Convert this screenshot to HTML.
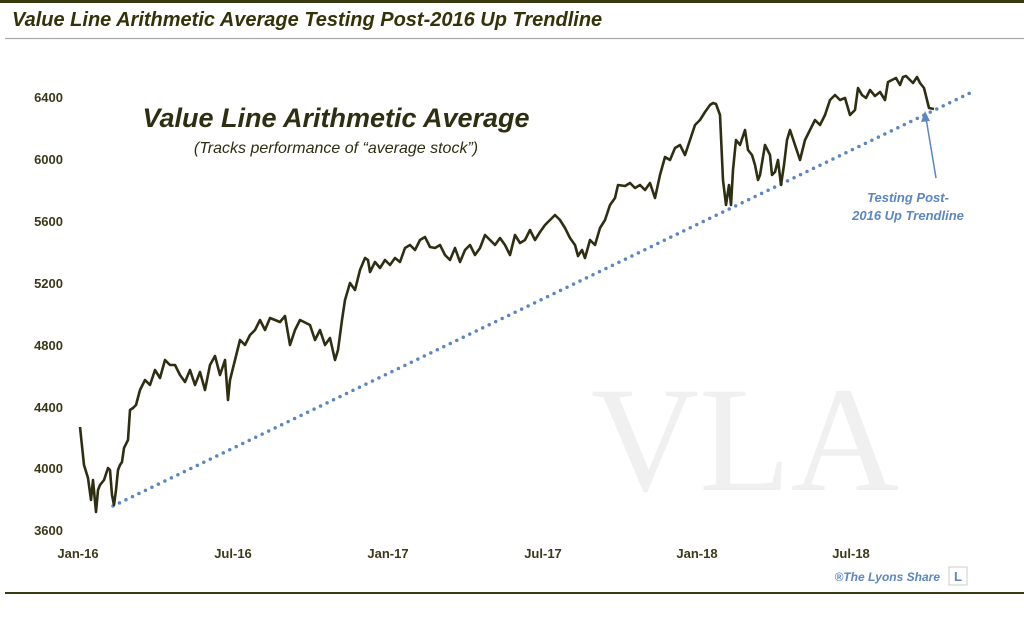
<!DOCTYPE html>
<html><head><meta charset="utf-8"><style>
body{margin:0;background:#fff;}
svg{display:block;font-family:"Liberation Sans",sans-serif;}
</style></head><body>
<svg width="1024" height="623" viewBox="0 0 1024 623" xmlns="http://www.w3.org/2000/svg">
<rect x="0" y="0" width="1024" height="3" fill="#3a3a10"/>
<text x="12" y="26" font-size="20" font-weight="bold" font-style="italic" fill="#33330a">Value Line Arithmetic Average Testing Post-2016 Up Trendline</text>
<line x1="5" y1="38.5" x2="1024" y2="38.5" stroke="#aaa" stroke-width="1.2"/>
<text x="745" y="490" font-family="Liberation Serif,serif" font-size="150" fill="#f0f0f0" text-anchor="middle">VLA</text>
<g font-size="13" font-weight="bold" fill="#3a3a1a" text-anchor="end">
<text x="63" y="102">6400</text><text x="63" y="164">6000</text><text x="63" y="226">5600</text>
<text x="63" y="288">5200</text><text x="63" y="350">4800</text><text x="63" y="412">4400</text>
<text x="63" y="473">4000</text><text x="63" y="535">3600</text>
</g>
<g font-size="13" font-weight="bold" fill="#3a3a1a" text-anchor="middle">
<text x="78" y="558">Jan-16</text><text x="233" y="558">Jul-16</text><text x="388" y="558">Jan-17</text>
<text x="543" y="558">Jul-17</text><text x="697" y="558">Jan-18</text><text x="851" y="558">Jul-18</text>
</g>
<line x1="113" y1="506" x2="970" y2="93" stroke="#5b86c0" stroke-width="3.5" stroke-linecap="round" stroke-dasharray="0 7.2"/>
<polyline fill="none" stroke="#2e2e12" stroke-width="2.6" stroke-linejoin="round" points="80,427 84,465 88,478 91,500 93,480 96,512 98,490 100,485 104,480 108,468 110,470 112,495 114,505 116,490 118,470 120,465 122,462 124,448 128,440 130,410 133,408 136,405 140,390 145,380 150,385 155,370 160,378 165,360 170,365 175,365 180,375 185,382 190,370 195,385 200,372 205,390 210,365 215,356 220,375 225,360 228,400 230,380 235,360 240,340 245,345 250,335 255,330 260,320 265,330 270,318 280,322 285,316 290,345 295,330 300,320 310,325 315,340 320,330 325,345 330,338 335,360 338,350 342,320 345,300 350,283 355,290 360,270 365,258 368,260 370,272 375,262 380,268 385,260 390,265 395,258 400,262 405,248 410,245 415,250 420,240 425,237 430,247 435,248 440,245 445,255 450,260 455,248 460,262 465,250 470,245 475,255 480,248 485,235 490,240 495,245 500,238 505,245 510,255 515,235 520,243 525,240 530,230 535,240 540,232 545,225 550,220 555,215 560,220 565,228 570,238 575,245 578,256 582,250 585,258 590,240 595,245 600,228 605,220 610,205 615,198 618,185 625,186 630,183 635,188 640,185 645,190 650,183 655,198 660,175 665,157 670,160 675,148 680,145 685,155 690,140 695,125 700,120 705,112 710,105 713,103 716,104 720,115 723,180 726,205 729,185 731,205 733,170 736,140 740,145 745,130 748,150 752,155 755,165 758,180 760,175 765,145 770,155 772,175 775,172 778,160 781,185 784,165 787,140 790,130 795,145 800,160 805,140 810,130 815,120 820,125 825,115 830,100 835,95 840,100 845,98 850,115 855,110 858,88 862,95 866,98 870,90 875,96 880,92 885,100 888,82 892,80 896,78 900,85 903,77 906,76 910,80 913,83 917,77 920,83 924,88 927,100 929,108 934,109"/>
<text x="336" y="127" font-size="27" font-weight="bold" font-style="italic" fill="#2e2e12" text-anchor="middle">Value Line Arithmetic Average</text>
<text x="336" y="153" font-size="16" font-style="italic" fill="#2e2e12" text-anchor="middle">(Tracks performance of “average stock”)</text>
<line x1="936" y1="178" x2="926" y2="118" stroke="#5b86c0" stroke-width="1.5"/>
<polygon points="925,111 921,122 930,121" fill="#5b86c0"/>
<g font-size="13" font-weight="bold" font-style="italic" fill="#5b86c0" text-anchor="middle">
<text x="908" y="202">Testing Post-</text><text x="908" y="220">2016 Up Trendline</text>
</g>
<text x="940" y="581" font-size="12" font-weight="bold" font-style="italic" fill="#5b86c0" text-anchor="end">®The Lyons Share</text>
<rect x="949" y="567" width="18" height="18" fill="#fff" stroke="#ccc"/>
<text x="958" y="581" font-size="13" font-weight="bold" fill="#5b86c0" text-anchor="middle">L</text>
<rect x="5" y="592" width="1019" height="2" fill="#3a3a10"/>
</svg>
</body></html>
